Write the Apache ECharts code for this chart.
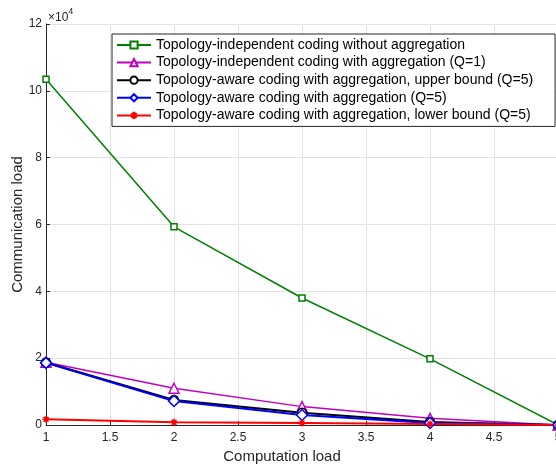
<!DOCTYPE html>
<html>
<head>
<meta charset="utf-8">
<script src="https://cdn.jsdelivr.net/npm/echarts@6/dist/echarts.min.js"></script>
<style>
  html, body { margin: 0; padding: 0; background: #fff; }
  #chart { width: 556px; height: 464px; }
</style>
</head>
<body>
<div id="chart"></div>
<script>
// computation load (x)
var loads = [1, 2, 3, 4, 5];

// communication load values
var noAggregation = [103500, 59300, 38000, 19800, 0];
var aggregationQ1 = [18800, 11000, 5500, 2000, 0];
var awareUpper = [18700, 7500, 3700, 900, 0];
var awareQ5 = [18600, 7200, 3000, 600, 0];
var awareLower = [1700, 800, 600, 300, 0];

var seriesNames = [
    'Topology-independent coding without aggregation',
    'Topology-independent coding with aggregation (Q=1)',
    'Topology-aware coding with aggregation, upper bound (Q=5)',
    'Topology-aware coding with aggregation (Q=5)',
    'Topology-aware coding with aggregation, lower bound (Q=5)'
];

function pairs(vals) {
    return loads.map(function (x, i) { return [x, vals[i]]; });
}

var asterisk = 'path://M5,0 L5,10 M0,5 L10,5 M1.5,1.5 L8.5,8.5 M8.5,1.5 L1.5,8.5';

function lineSeries(idx, vals, color, width, symbol, size, filled) {
    return {
        name: seriesNames[idx],
        type: 'line',
        data: pairs(vals),
        lineStyle: { color: color, width: width },
        symbol: symbol,
        symbolSize: size,
        itemStyle: { color: filled ? color : '#fff', borderColor: color, borderWidth: 1.5 }
    };
}

var chart = echarts.init(document.getElementById('chart'));

//配置项
var options = {
    backgroundColor: '#fff',
    animation: false,
    textStyle: { fontFamily: 'Liberation Sans, Arial, sans-serif' },
    grid: { left: 46, top: 24, width: 512, bottom: 39, outerBoundsMode: 'none', containLabel: false },
    legend: {
        orient: 'vertical',
        left: 112,
        top: 34,
        padding: [4, 22, 4, 4],
        itemGap: 3.6,
        itemWidth: 34,
        itemHeight: 9,
        backgroundColor: '#fff',
        borderColor: '#262626',
        borderWidth: 1,
        borderRadius: 0,
        textStyle: { fontSize: 14, color: '#000', lineHeight: 14 },
        data: seriesNames
    },
    xAxis: {
        type: 'value',
        min: 1,
        max: 5,
        interval: 0.5,
        name: 'Computation load',
        nameLocation: 'middle',
        nameGap: 24,
        nameMoveOverlap: false,
        nameTextStyle: { fontSize: 15, color: '#262626', padding: [0, 40, 0, 0] },
        axisLine: { lineStyle: { color: '#262626', width: 1 } },
        axisTick: { inside: true, length: 4, lineStyle: { color: '#262626' } },
        axisLabel: { color: '#262626', fontSize: 12, margin: 7 },
        splitLine: { show: true, lineStyle: { color: '#e2e2e2' } }
    },
    yAxis: {
        type: 'value',
        min: 0,
        max: 120000,
        interval: 20000,
        name: 'Communication load',
        nameLocation: 'middle',
        nameGap: 21,
        nameMoveOverlap: false,
        nameTextStyle: { fontSize: 15, color: '#262626' },
        axisLine: { show: true, lineStyle: { color: '#262626', width: 1 } },
        axisTick: { show: true, inside: true, length: 4, lineStyle: { color: '#262626' } },
        axisLabel: {
            color: '#262626', fontSize: 12, margin: 4,
            formatter: function (v) { return String(v / 10000); }
        },
        splitLine: { show: true, lineStyle: { color: '#e2e2e2' } }
    },
    graphic: [{
        type: 'text',
        left: 48,
        top: 7,
        style: {
            text: '{a|×10}{b|4}',
            rich: {
                a: { fontSize: 12, fill: '#262626', fontFamily: 'Liberation Sans', padding: [5, 0, 0, 0] },
                b: { fontSize: 9, fill: '#262626', fontFamily: 'Liberation Sans', verticalAlign: 'top' }
            }
        }
    }],
    series: [
        lineSeries(0, noAggregation, '#008000', 1.5, 'rect', 6, false),
        lineSeries(1, aggregationQ1, '#c000c0', 1.5, 'triangle', 10, false),
        lineSeries(2, awareUpper, '#000000', 2, 'circle', 9, false),
        lineSeries(3, awareQ5, '#0000ff', 2, 'diamond', 11, false),
        lineSeries(4, awareLower, '#ff0000', 2, asterisk, 7, true)
    ]
};

chart.setOption(options);
</script>
</body>
</html>
